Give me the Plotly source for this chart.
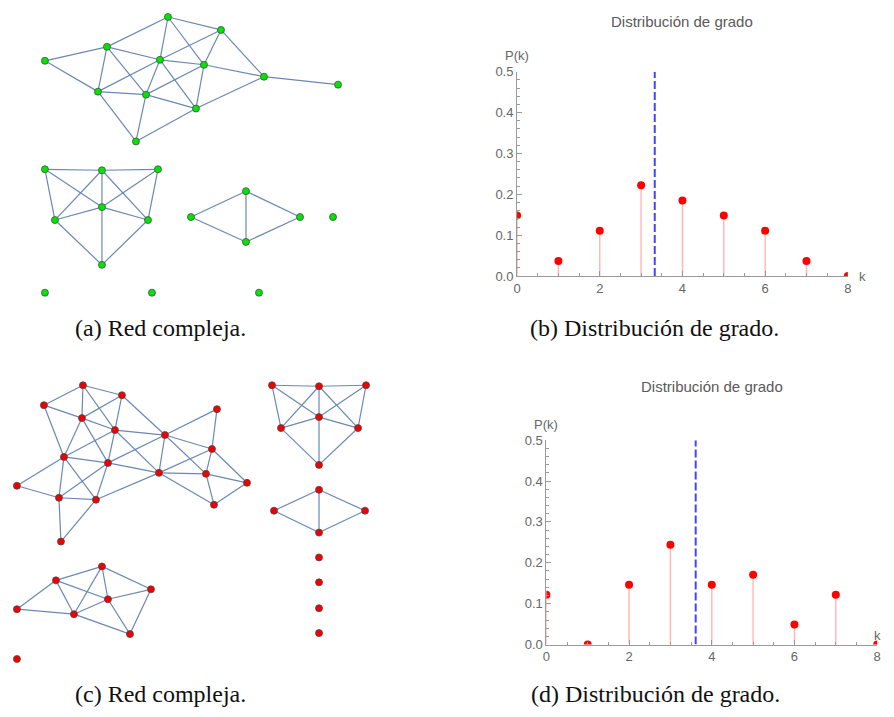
import plotly.graph_objects as go

VW, VH = 894, 717          # browser window
OFF = 8                    # default page body margin
W, H = VW - OFF, VH - 2 * OFF

# observed page -> picture mapping (picture = A + S * page)
SX, AX = 0.9907, 3.15
SY, AY = 0.98, 6.4

# ---------------- Data: network (a) ----------------
net_a_x = [167, 220, 106, 44, 159, 203, 263, 337, 97, 145, 195, 135,
           44, 101, 157, 101, 54, 147, 101,
           190, 245, 299, 245,
           332, 44, 151, 258]
net_a_y = [14, 27, 44, 58, 57, 62, 74, 82, 89, 92, 106, 139,
           167, 168, 167, 205, 218, 218, 263,
           215, 189, 215, 240,
           215, 291, 291, 291]
net_a_edges = [(0, 1), (0, 2), (0, 4), (0, 5), (1, 6), (1, 5), (1, 4),
               (2, 3), (2, 8), (2, 4), (2, 9), (3, 8),
               (4, 5), (4, 9), (4, 10), (4, 8), (5, 6), (5, 10), (5, 9),
               (6, 7), (6, 10), (8, 9), (8, 11), (9, 10), (9, 11), (10, 11),
               (12, 13), (13, 14), (12, 16), (12, 15), (14, 15), (14, 17),
               (13, 15), (13, 16), (13, 17), (15, 16), (15, 17), (15, 18),
               (16, 18), (17, 18),
               (19, 20), (19, 22), (20, 21), (21, 22), (20, 22)]

# ---------------- Data: network (c) ----------------
net_c_x = [82, 121, 43, 81, 114, 164, 216, 211, 63, 107, 158, 205, 246, 16, 58, 95, 213, 60,
           101, 55, 150, 107, 16, 73, 129, 16,
           271, 318, 365, 318, 280, 357, 318,
           273, 318, 364, 318,
           318, 318, 318, 318]
net_c_y = [384, 394, 404, 417, 429, 434, 408, 448, 456, 462, 472, 473, 482, 485, 497, 499, 504, 541,
           566, 580, 589, 599, 609, 614, 634, 659,
           384, 385, 384, 416, 427, 427, 464,
           510, 489, 510, 532,
           557, 582, 608, 633]
net_c_edges = [(0, 2), (0, 1), (0, 3), (0, 4), (1, 3), (1, 4), (1, 5),
               (2, 3), (2, 8), (3, 4), (3, 8), (3, 9),
               (4, 5), (4, 8), (4, 9), (4, 10),
               (5, 6), (5, 7), (5, 10), (5, 9), (5, 11), (6, 7),
               (7, 10), (7, 11), (7, 12),
               (8, 9), (8, 13), (8, 14), (8, 15), (9, 10), (9, 14), (9, 15),
               (10, 11), (10, 15), (10, 16), (11, 12), (11, 16), (12, 16),
               (13, 14), (14, 15), (14, 17), (15, 17),
               (18, 19), (18, 20), (18, 21), (18, 23), (19, 22), (19, 23), (19, 21),
               (20, 21), (20, 24), (21, 23), (21, 24), (22, 23), (23, 24),
               (26, 27), (27, 28), (26, 30), (26, 29), (28, 29), (28, 31),
               (27, 29), (27, 30), (27, 31), (29, 30), (29, 31), (29, 32),
               (30, 32), (31, 32),
               (33, 34), (33, 36), (34, 35), (35, 36), (34, 36)]

# ---------------- Data: degree distributions ----------------
k_vals = [0, 1, 2, 3, 4, 5, 6, 7, 8]
pk_b = [0.148, 0.037, 0.111, 0.222, 0.185, 0.148, 0.111, 0.037, 0.0]
pk_d = [0.122, 0.0, 0.146, 0.244, 0.146, 0.171, 0.049, 0.122, 0.0]
y_ticks = [0.0, 0.1, 0.2, 0.3, 0.4, 0.5]
x_ticks = [0, 2, 4, 6, 8]

title_text = "Distribución de grado"
captions = ["(a) Red compleja.", "(b) Distribución de grado.",
            "(c) Red compleja.", "(d) Distribución de grado."]

EDGE_COLOR = "#6b88b5"
STEM_COLOR = "#ffb5b5"
DOT_COLOR = "#ff0000"
MEAN_COLOR = "#4444ff"
AXIS_COLOR = "#9a9a9a"
TEXT_COLOR = "#666666"


def page_x(xr):
    return (xr - AX) / SX


def page_y(yr):
    return (yr - AY) / SY


def px(xr):
    return (page_x(xr) - OFF) / W


def py(yr):
    return 1 - (page_y(yr) - OFF) / H


fig = go.Figure()


def add_network(xs, ys, edges, color):
    ex, ey = [], []
    for a, b in edges:
        ex += [xs[a], xs[b], None]
        ey += [ys[a], ys[b], None]
    fig.add_trace(go.Scatter(x=ex, y=ey, mode="lines", xaxis="x3", yaxis="y3",
                             line=dict(color=EDGE_COLOR, width=1.2),
                             hoverinfo="skip", showlegend=False))
    fig.add_trace(go.Scatter(x=xs, y=ys, mode="markers", xaxis="x3", yaxis="y3",
                             marker=dict(size=7, color=color,
                                         line=dict(color="#4a4a4a", width=0.8)),
                             cliponaxis=False, showlegend=False))


add_network(net_a_x, net_a_y, net_a_edges, "#00e600")
add_network(net_c_x, net_c_y, net_c_edges, "#f00000")


def add_stem(pk, xa, ya):
    sx, sy = [], []
    for k, p in zip(k_vals, pk):
        sx += [k, k, None]
        sy += [0, p, None]
    fig.add_trace(go.Scatter(x=sx, y=sy, mode="lines", xaxis=xa, yaxis=ya,
                             line=dict(color=STEM_COLOR, width=1.4),
                             hoverinfo="skip", showlegend=False))
    mean = sum(k * p for k, p in zip(k_vals, pk))
    fig.add_trace(go.Scatter(x=[mean, mean], y=[0, 0.5], mode="lines", xaxis=xa, yaxis=ya,
                             line=dict(color=MEAN_COLOR, width=2, dash="8px,3px"),
                             showlegend=False))
    fig.add_trace(go.Scatter(x=k_vals, y=pk, mode="markers", xaxis=xa, yaxis=ya,
                             marker=dict(size=8, color=DOT_COLOR),
                             cliponaxis=True, showlegend=False))


add_stem(pk_b, "x", "y")
add_stem(pk_d, "x2", "y2")

tickfont = dict(family="Liberation Sans, Arial, sans-serif", size=13, color=TEXT_COLOR)


def xaxis_cfg(x0, x1, anchor):
    return dict(domain=[px(x0), px(x1)], range=[0, 8], anchor=anchor,
                tickvals=x_ticks, ticks="inside", ticklen=5, tickcolor=AXIS_COLOR,
                showline=True, linecolor=AXIS_COLOR, linewidth=1,
                showgrid=False, zeroline=False, tickfont=tickfont,
                minor=dict(dtick=0.5, tick0=0, ticks="inside", ticklen=3,
                           tickcolor=AXIS_COLOR, showgrid=False),
                fixedrange=True)


def yaxis_cfg(y0, y1, anchor):
    return dict(domain=[py(y0), py(y1)], range=[0, 0.5], anchor=anchor,
                tickvals=y_ticks, tickformat=".1f", ticks="inside", ticklen=5,
                tickcolor=AXIS_COLOR, showline=True, linecolor=AXIS_COLOR, linewidth=1,
                showgrid=False, zeroline=False, tickfont=tickfont,
                minor=dict(dtick=0.02, tick0=0, ticks="inside", ticklen=3,
                           tickcolor=AXIS_COLOR, showgrid=False),
                fixedrange=True)


# panel frames (axis origin / extents), in picture pixels
B_X0, B_X1, B_Y0, B_Y1 = 516, 846.7, 275.7, 71
D_X0, D_X1, D_Y0, D_Y1 = 545.3, 876, 644.7, 440

net_xr = [AX + SX * OFF, AX + SX * (OFF + W)]
net_yr = [AY + SY * (OFF + H), 12.0]

fig.update_layout(
    width=W, height=H, autosize=False,
    margin=dict(l=0, r=0, t=0, b=0),
    paper_bgcolor="white", plot_bgcolor="rgba(0,0,0,0)",
    xaxis=xaxis_cfg(B_X0, B_X1, "y"),
    yaxis=yaxis_cfg(B_Y0, B_Y1, "x"),
    xaxis2=xaxis_cfg(D_X0, D_X1, "y2"),
    yaxis2=yaxis_cfg(D_Y0, D_Y1, "x2"),
    xaxis3=dict(domain=[0, 1], range=net_xr, visible=False, anchor="y3", fixedrange=True),
    yaxis3=dict(domain=[0, 1], range=net_yr, visible=False, anchor="x3", fixedrange=True),
    showlegend=False,
)

ann = []
lab_font = dict(family="Liberation Sans, Arial, sans-serif", size=13, color=TEXT_COLOR)
title_font = dict(family="Liberation Sans, Arial, sans-serif", size=15, color="#5a5a5a")
# (x0, x1, y0, y1, title y, k-label x, k-label y, k anchor)
for (x0, x1, y0, y1, ty, kx, ky, kanc) in [
        (B_X0, B_X1, B_Y0, B_Y1, 21, 856, B_Y0, "left"),
        (D_X0, D_X1, D_Y0, D_Y1, 386, 882, D_Y0 - 9, "right")]:
    ann.append(dict(x=px((x0 + x1) / 2), y=py(ty), xref="paper", yref="paper",
                    text=title_text, showarrow=False, font=title_font,
                    xanchor="center", yanchor="middle"))
    ann.append(dict(x=px(x0), y=py(y1 - 16), xref="paper", yref="paper",
                    text="P(k)", showarrow=False, font=lab_font,
                    xanchor="center", yanchor="middle"))
    ann.append(dict(x=px(kx), y=py(ky), xref="paper", yref="paper",
                    text="k", showarrow=False, font=lab_font,
                    xanchor=kanc, yanchor="middle"))

cap_font = dict(family="Liberation Serif, Times New Roman, serif", size=24, color="#111111")
for text, cx, cy in zip(captions, [160, 653, 160, 654], [328, 328, 694, 694]):
    ann.append(dict(x=px(cx), y=py(cy), xref="paper", yref="paper", text=text,
                    showarrow=False, font=cap_font, xanchor="center", yanchor="middle"))

fig.update_layout(annotations=ann)
fig.write_html("out.html")
